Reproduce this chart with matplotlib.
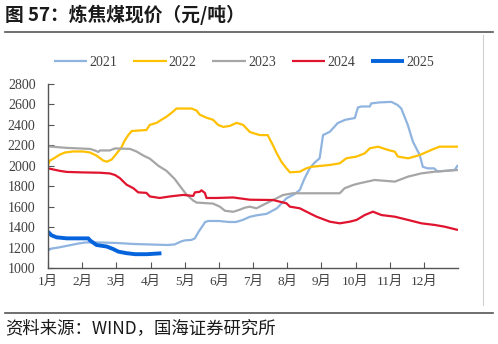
import matplotlib
matplotlib.use("Agg")
import matplotlib.pyplot as plt
from matplotlib.lines import Line2D

plt.rcParams["font.family"] = ["Liberation Serif", "Noto Sans CJK SC", "DejaVu Sans"]

# month position (0 = 1 Jan, 12 = 31 Dec) and price, yuan/ton
m21 = [0, 0.1, 0.3, 0.6, 0.9, 1.1, 1.5, 2.0, 2.5, 3.0, 3.5, 3.7, 3.9, 4.0, 4.2, 4.3,
       4.4, 4.5, 4.6, 4.7, 5.0, 5.3, 5.5, 5.7, 5.9, 6.1, 6.4, 6.7, 6.98, 7.2, 7.37,
       7.5, 7.66, 7.8, 7.95, 8.05, 8.25, 8.48, 8.7, 8.98, 9.07, 9.17, 9.42, 9.46,
       9.7, 10.05, 10.23, 10.34, 10.53, 10.68, 10.88, 10.97, 11.11, 11.3, 11.4,
       11.6, 11.9, 12.0]
v21 = [1170, 1190, 1200, 1220, 1240, 1250, 1250, 1245, 1235, 1230, 1225, 1230, 1260,
       1270, 1275, 1290, 1350, 1400, 1450, 1460, 1460, 1450, 1450, 1470, 1500, 1515,
       1530, 1584, 1682, 1720, 1763, 1870, 1975, 2030, 2073, 2300, 2333, 2418, 2450,
       2467, 2570, 2580, 2580, 2610, 2620, 2625, 2595, 2560, 2400, 2236, 2105, 1990,
       1975, 1975, 1945, 1950, 1958, 2008]

m22 = [0, 0.05, 0.16, 0.35, 0.5, 0.74, 1.03, 1.23, 1.42, 1.62, 1.72, 1.86, 1.96, 2.15,
       2.25, 2.35, 2.45, 2.88, 2.98, 3.18, 3.32, 3.47, 3.66, 3.76, 4.2, 4.35, 4.44,
       4.64, 4.83, 4.98, 5.13, 5.32, 5.52, 5.71, 5.91, 6.2, 6.43, 6.58, 6.69, 6.83,
       6.98, 7.08, 7.37, 7.56, 7.71, 8.25, 8.54, 8.73, 9.03, 9.27, 9.42, 9.66, 9.95,
       10.15, 10.24, 10.54, 10.88, 11.22, 11.46, 12.0]
v22 = [2005, 2050, 2070, 2110, 2130, 2140, 2140, 2130, 2100, 2050, 2040, 2060, 2100,
       2180, 2250, 2300, 2340, 2350, 2400, 2420, 2450, 2480, 2530, 2560, 2560, 2540,
       2500, 2470, 2450, 2400, 2380, 2390, 2420, 2400, 2330, 2300, 2300, 2203, 2125,
       2040, 1975, 1936, 1942, 1975, 1990, 2008, 2024, 2073, 2090, 2122, 2171, 2187,
       2155, 2138, 2090, 2073, 2105, 2155, 2187, 2187]

m23 = [0, 0.55, 1.23, 1.37, 1.47, 1.52, 1.81, 1.96, 2.4, 2.59, 2.79, 2.98, 3.23, 3.47,
       3.71, 3.91, 4.05, 4.25, 4.35, 4.83, 5.03, 5.18, 5.42, 5.61, 5.76, 5.91, 6.1,
       6.39, 6.69, 6.88, 7.17, 7.66, 8.54, 8.68, 8.93, 9.12, 9.56, 10.15, 10.54,
       10.93, 11.32, 11.95, 12.0]
v23 = [2190, 2175, 2165, 2150, 2135, 2150, 2150, 2170, 2165, 2140, 2100, 2070, 2000,
       1950, 1870, 1780, 1720, 1660, 1640, 1630, 1600, 1560, 1550, 1570, 1590, 1600,
       1584, 1633, 1682, 1714, 1731, 1731, 1731, 1780, 1812, 1829, 1861, 1845, 1894,
       1926, 1942, 1958, 1960]

m24 = [0, 0.35, 0.55, 1.03, 1.52, 1.81, 1.96, 2.1, 2.3, 2.5, 2.64, 2.88, 2.98, 3.27,
       3.57, 3.96, 4.25, 4.3, 4.44, 4.49, 4.59, 4.64, 4.93, 5.42, 5.91, 6.59, 6.78,
       6.98, 7.08, 7.37, 7.66, 7.86, 8.25, 8.54, 8.83, 9.03, 9.27, 9.51, 9.76, 10.15,
       10.54, 10.93, 11.32, 11.61, 12.0]
v24 = [1975, 1950, 1940, 1935, 1932, 1925, 1910, 1880, 1815, 1780, 1740, 1735, 1700,
       1685, 1700, 1715, 1705, 1740, 1745, 1760, 1735, 1685, 1685, 1690, 1668, 1665,
       1649, 1633, 1600, 1584, 1535, 1502, 1453, 1437, 1453, 1470, 1518, 1551, 1518,
       1502, 1470, 1437, 1421, 1404, 1372]

m25 = [0, 0.1, 0.25, 0.55, 1.18, 1.23, 1.42, 1.72, 1.91, 2.06, 2.3, 2.55, 2.89, 3.32]
v25 = [1355, 1320, 1300, 1290, 1290, 1270, 1225, 1210, 1185, 1160, 1145, 1135, 1135,
       1144]

month_labels = [f"{i}月" for i in range(1, 13)]
y_ticks = list(range(1000, 2801, 200))

series = [
    ("2021", m21, v21, "#8FB4E0", 1.6),
    ("2022", m22, v22, "#FFC000", 1.6),
    ("2023", m23, v23, "#A6A6A6", 1.6),
    ("2024", m24, v24, "#E0142E", 1.6),
    ("2025", m25, v25, "#0563DB", 2.8),
]

fig = plt.figure(figsize=(4.98, 3.44), dpi=100)
ax = fig.add_axes([48 / 498, 1 - 268 / 344, 410 / 498, 184 / 344])

for name, xs, ys, col, lw in series:
    ax.plot(xs, ys, color=col, lw=lw, label=name, solid_capstyle="butt")

ax.set_xlim(0, 12)
ax.set_ylim(1000, 2800)
ax.set_yticks(y_ticks)
ax.set_xticks(range(12))
ax.set_xticklabels(month_labels)
for s in ["top", "right"]:
    ax.spines[s].set_visible(False)
for s in ["left", "bottom"]:
    ax.spines[s].set_color("#555555")
    ax.spines[s].set_linewidth(1.0)
ax.tick_params(axis="y", direction="in", length=4, color="#555555",
               labelsize=10, labelcolor="#404040", pad=9)
ax.tick_params(axis="x", direction="in", length=4, color="#555555",
               labelsize=9.5, labelcolor="#404040", pad=6)

fig.legend(loc="center", bbox_to_anchor=(0.49, 1 - 62 / 344), ncol=5, frameon=False,
           fontsize=10, handlelength=2.4, handletextpad=0.15, columnspacing=1.15,
           labelcolor="#404040")

# header / footer rules and right border
fig.add_artist(Line2D([5 / 498, 493 / 498], [1 - 32 / 344] * 2, color="#555555", lw=1.2))
fig.add_artist(Line2D([5 / 498, 493 / 498], [1 - 313 / 344] * 2, color="#555555", lw=1.2))
fig.add_artist(Line2D([483 / 498] * 2, [1 - 35 / 344, 1 - 305 / 344], color="#D0D0D0", lw=0.8))

fig.text(5 / 498, 1 - 15 / 344, "图 57：炼焦煤现价（元/吨）", fontsize=13.5, fontweight="bold",
         family=["Noto Sans CJK SC", "DejaVu Sans"], va="center", ha="left", color="#1a1a1a")
fig.text(5 / 498, 1 - 328 / 344, "资料来源：WIND，国海证券研究所", fontsize=12.5,
         family=["Noto Sans CJK SC", "DejaVu Sans"], va="center", ha="left", color="#1a1a1a")

fig.savefig("out.png", dpi=100)
